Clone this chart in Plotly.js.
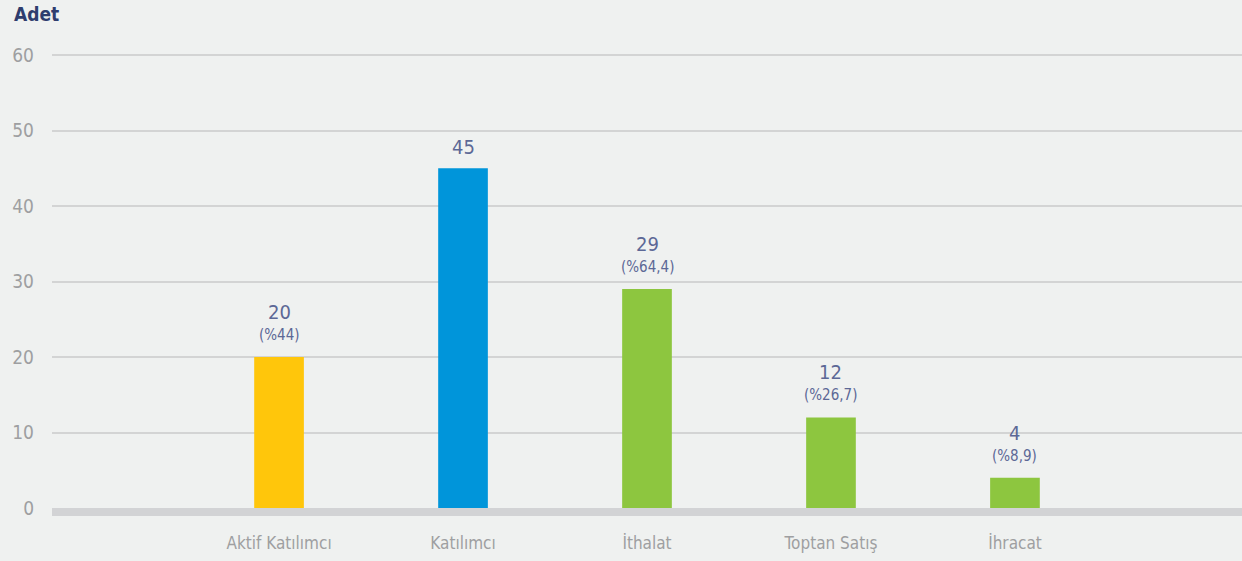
<!DOCTYPE html>
<html><head><meta charset="utf-8">
<script src="https://cdn.plot.ly/plotly-3.0.1.min.js"></script>
<style>html,body{margin:0;padding:0;background:#eff1f0;}#chart{width:1242px;height:561px;}</style>
</head><body><div id="chart"></div>
<script>
const categories = ["Aktif Katılımcı", "Katılımcı", "İthalat", "Toptan Satış", "İhracat"];
const values = [20, 45, 29, 12, 4];
const percentLabels = ["(%44)", "", "(%64,4)", "(%26,7)", "(%8,9)"];
const barColors = ["#ffc60b", "#0095da", "#8dc63f", "#8dc63f", "#8dc63f"];
const yTicks = [0, 10, 20, 30, 40, 50, 60];

const FONT = "'DejaVu Sans Condensed', 'Roboto', sans-serif";
const LABEL_COLOR = "#5c6896";

const annotations = [];
categories.forEach((c, i) => {
  const hasPct = percentLabels[i] !== "";
  annotations.push({x: c, y: values[i], xref: 'x', yref: 'y', text: String(values[i]),
    showarrow: false, yanchor: 'middle', yshift: hasPct ? 45 : 21,
    font: {family: FONT, size: 20, color: LABEL_COLOR}});
  if (hasPct) annotations.push({x: c, y: values[i], xref: 'x', yref: 'y', text: percentLabels[i],
    showarrow: false, yanchor: 'middle', yshift: 22,
    font: {family: FONT, size: 15, color: LABEL_COLOR}});
});
annotations.push({xref: 'paper', yref: 'paper', x: -0.0311, y: 1.0, xanchor: 'left', yanchor: 'bottom',
  yshift: 27, xshift: -3, text: '<b>Adet</b>', showarrow: false, font: {family: FONT, size: 19, color: '#2e3d6e'}});

Plotly.newPlot('chart', [{
  type: 'bar', x: categories, y: values, width: 0.27,
  marker: {color: barColors, line: {width: 0}}, hoverinfo: 'none'
}], {
  width: 1242, height: 561,
  margin: {l: 52, r: 0, t: 54, b: 53},
  paper_bgcolor: '#eff1f0', plot_bgcolor: '#eff1f0',
  showlegend: false,
  xaxis: {type: 'category', range: [-1.234, 5.234], showgrid: false, zeroline: false, showline: false,
    ticks: '', ticklabelstandoff: 23, tickfont: {family: FONT, size: 17, color: '#9e9fa1'}, fixedrange: true},
  yaxis: {range: [0, 60.15], tickvals: yTicks, showgrid: true, gridcolor: '#d3d4d4', gridwidth: 2,
    zeroline: false, showline: false, ticks: '', ticklabelstandoff: 17,
    tickfont: {family: FONT, size: 19, color: '#9e9fa1'}, fixedrange: true},
  shapes: [{type: 'rect', xref: 'paper', yref: 'paper', x0: 0, x1: 1, ysizemode: 'pixel',
    yanchor: 0, y0: 0, y1: -8, fillcolor: '#d2d3d5', line: {width: 0}, layer: 'above'}],
  annotations: annotations
}, {staticPlot: true});
</script></body></html>
